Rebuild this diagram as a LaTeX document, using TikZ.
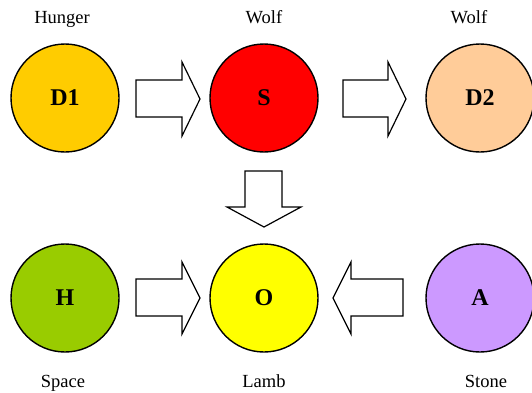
\documentclass[tikz,border=0pt]{standalone}
\usepackage{fontspec}
\setmainfont{Liberation Serif}
\definecolor{cgold}{HTML}{FFCC00}
\definecolor{cred}{HTML}{FF0000}
\definecolor{cpeach}{HTML}{FFCC99}
\definecolor{cgreen}{HTML}{99CC00}
\definecolor{cyel}{HTML}{FFFF00}
\definecolor{clav}{HTML}{CC99FF}
\tikzset{
  ball/.style={circle,draw=black,line width=1.4bp,minimum size=108bp,inner sep=0pt,
    font=\fontsize{24bp}{26bp}\selectfont\bfseries},
  lab/.style={anchor=base,inner sep=0pt,font=\fontsize{18.5bp}{20bp}\selectfont},
  blockarrow/.style={draw=black,fill=white,line width=1.2bp,line join=miter}
}
\begin{document}
\begin{tikzpicture}[x=1bp,y=-1bp]
\useasboundingbox (0,0) rectangle (532,392);
\node[ball,fill=cgold]  (D1) at (65,98)  {D1};
\node[ball,fill=cred]   (S)  at (264,98) {S};
\node[ball,fill=cpeach] (D2) at (480,98) {D2};
\node[ball,fill=cgreen] (H)  at (65,298) {H};
\node[ball,fill=cyel]   (O)  at (264,298) {O};
\node[ball,fill=clav]   (A)  at (480,298) {A};
\node[lab] (lD1) at (62,23) {Hunger};
\node[lab] (lS)  at (264,23) {Wolf};
\node[lab] (lD2) at (469,23) {Wolf};
\node[lab] (lH)  at (63,387) {Space};
\node[lab] (lO)  at (264,387) {Lamb};
\node[lab] (lA)  at (486,387) {Stone};
% D1 -> S
\draw[blockarrow] (136,80) -- (182,80) -- (182,62) -- (200,99) -- (182,136) -- (182,117) -- (136,117) -- cycle;
% S -> D2
\draw[blockarrow] (343,80) -- (388,80) -- (388,62) -- (406,99) -- (388,136) -- (388,117) -- (343,117) -- cycle;
% S -> O
\draw[blockarrow] (245,171) -- (282,171) -- (282,207) -- (301,207) -- (264,227) -- (227,207) -- (245,207) -- cycle;
% H -> O
\draw[blockarrow] (136,279) -- (182,279) -- (182,262) -- (200,298) -- (182,334) -- (182,316) -- (136,316) -- cycle;
% A -> O
\draw[blockarrow] (403,279) -- (351,279) -- (351,262) -- (333,298) -- (351,334) -- (351,316) -- (403,316) -- cycle;
\end{tikzpicture}
\end{document}
